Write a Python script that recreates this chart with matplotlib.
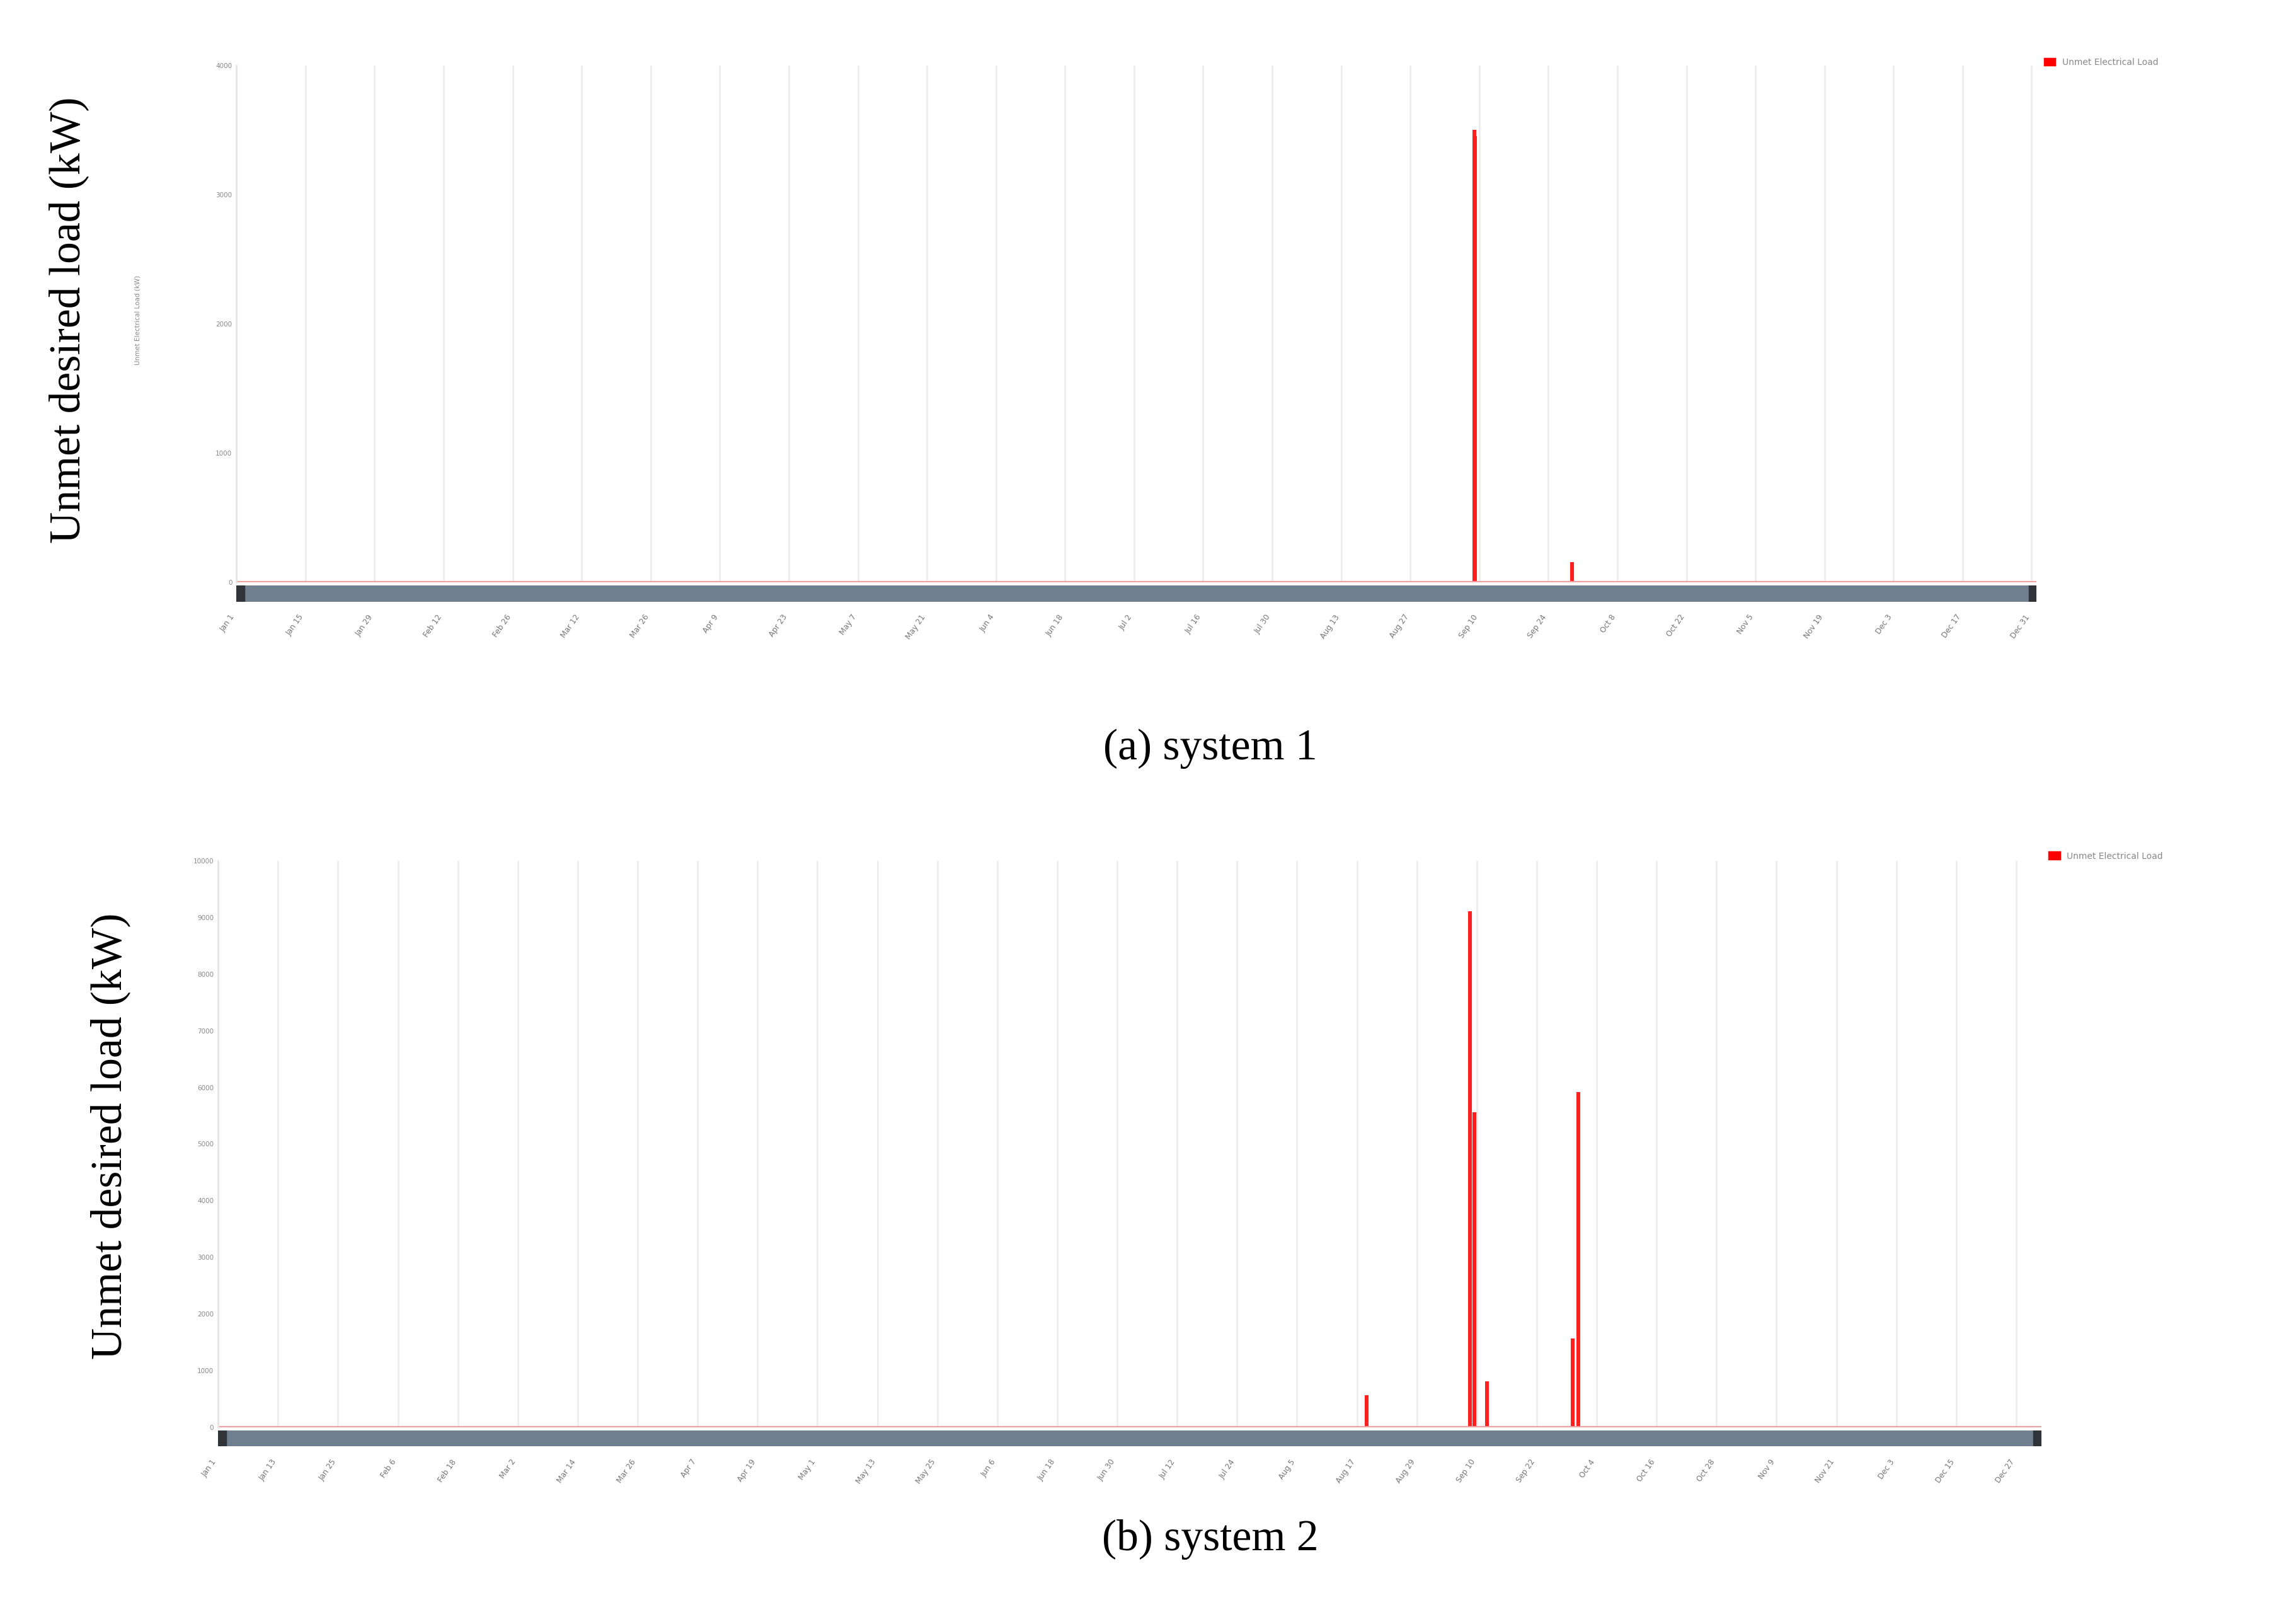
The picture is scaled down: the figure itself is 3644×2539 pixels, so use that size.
import matplotlib
matplotlib.use("Agg")
import matplotlib.pyplot as plt
from matplotlib.patches import Patch
import numpy as np
import datetime as dt

# events: (day of year, value kW)
sys1_days = [251.0, 251.2, 270.8]
sys1_vals = [3500, 3450, 150]
sys2_days = [230.0, 250.7, 251.5, 254.0, 271.2, 272.4]
sys2_vals = [550, 9100, 5550, 800, 1550, 5900]

start = dt.date(2019, 1, 1)
ticks1 = [start + dt.timedelta(days=14 * i) for i in range(27)]
ticks2 = [start + dt.timedelta(days=12 * i) for i in range(31)]
labels1 = [f"{d.strftime('%b')} {d.day}" for d in ticks1]
labels2 = [f"{d.strftime('%b')} {d.day}" for d in ticks2]
tpos1 = [(d - start).days for d in ticks1]
tpos2 = [(d - start).days for d in ticks2]

fig = plt.figure(figsize=(14.576, 10.156), dpi=250)
serif = "Liberation Serif"

def panel(rect, days, vals, tpos, labels, ymax, ystep, caption, capy, legx):
    ax = fig.add_axes(rect)
    ax.bar(days, vals, width=0.5, color="#ff2020", edgecolor="#ff2020", linewidth=0.6)
    ax.axhline(0, color="#f0a0a0", lw=1.5)
    ax.set_xlim(0, 365)
    ax.set_ylim(0, ymax)
    ax.set_yticks(np.arange(0, ymax + 1, ystep))
    ax.set_yticklabels([str(int(v)) for v in np.arange(0, ymax + 1, ystep)], fontsize=3, color="#888888")
    ax.set_xticks(tpos)
    ax.set_xticklabels(labels, rotation=55, fontsize=3.5, color="#777777", ha="right")
    for t in tpos:
        ax.axvline(t, color="#eeeeee", lw=0.8, zorder=0)
    for s in ["top", "right", "bottom"]:
        ax.spines[s].set_visible(False)
    ax.spines["left"].set_color("#e5e5e5")
    ax.tick_params(length=0, pad=2)
    ax.xaxis.set_tick_params(pad=14)
    nav = fig.add_axes([rect[0], rect[1] - 0.012, rect[2], 0.010])
    nav.set_xlim(0, 1); nav.set_ylim(0, 1)
    nav.axvspan(0, 1, color="#707f90")
    nav.axvspan(0, 0.004, color="#303438")
    nav.axvspan(0.996, 1, color="#303438")
    nav.axis("off")
    ax.legend(handles=[Patch(color="#ff0000", label="Unmet Electrical Load")], loc="upper left",
              bbox_to_anchor=(legx, 1.03), fontsize=4, frameon=False, handlelength=1.2,
              handleheight=0.8, labelcolor="#888888")
    fig.text(0.527, capy, caption, fontsize=20, family=serif, ha="center", va="center")
    return ax

ax1 = panel([0.103, 0.636, 0.784, 0.323], sys1_days, sys1_vals, tpos1, labels1,
            4000, 1000, "(a) system 1", 0.532, 1.0)
ax2 = panel([0.095, 0.108, 0.794, 0.354], sys2_days, sys2_vals, tpos2, labels2,
            10000, 1000, "(b) system 2", 0.038, 1.0)

fig.text(0.03, 0.80, "Unmet desired load (kW)", rotation=90, fontsize=20, family=serif,
         ha="center", va="center")
fig.text(0.06, 0.80, "Unmet Electrical Load (kW)", rotation=90, fontsize=3, color="#888888",
         ha="center", va="center")
fig.text(0.048, 0.29, "Unmet desired load (kW)", rotation=90, fontsize=20, family=serif,
         ha="center", va="center")

fig.savefig("out.png", dpi=250, facecolor="white")
